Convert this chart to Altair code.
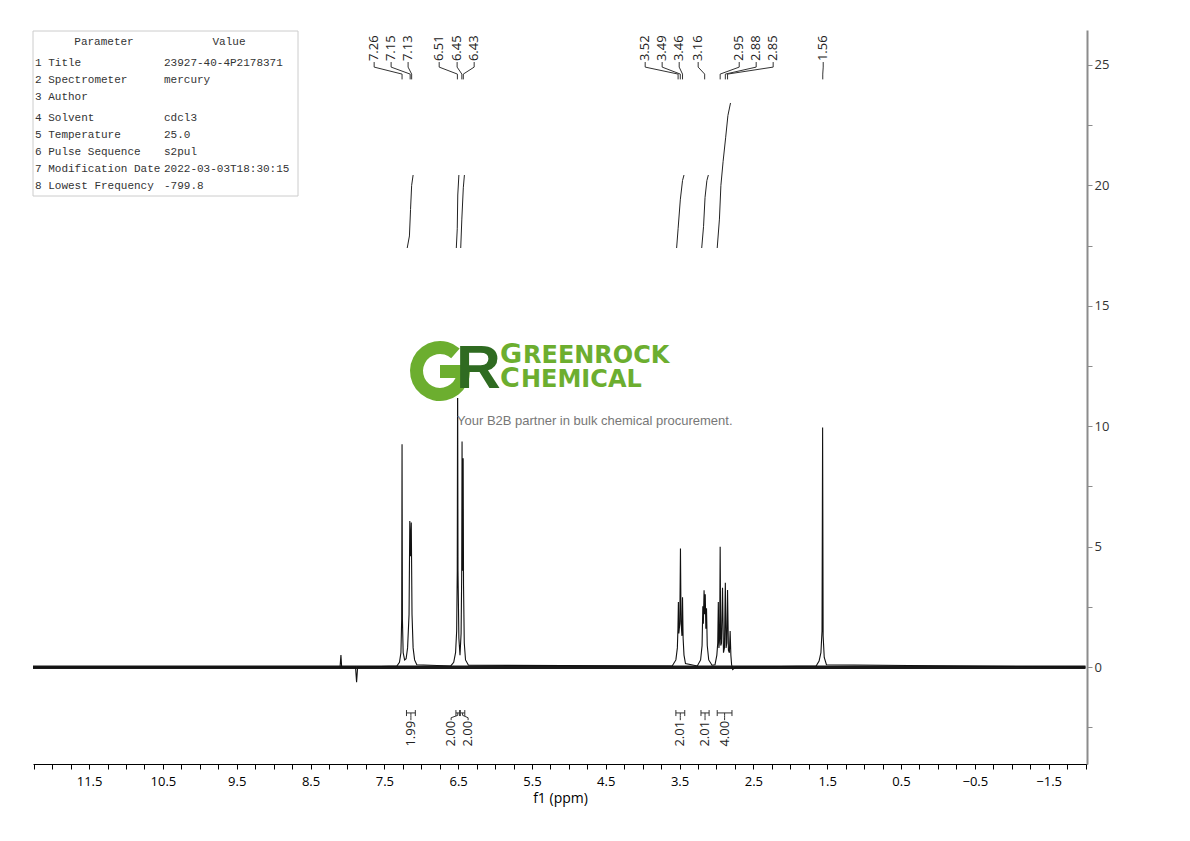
import altair as alt
import pandas as pd

# ---------------- data ----------------
# spectrum trace (ppm, intensity), in decreasing ppm
spec_ppm = [12.26,
            8.10, 8.088, 8.078, 7.89, 7.876, 7.862,
            7.33, 7.295, 7.275, 7.265, 7.26, 7.255, 7.245, 7.225, 7.205,
            7.185, 7.165, 7.155, 7.145, 7.135, 7.125, 7.11, 7.09, 7.06,
            6.60, 6.56, 6.535, 6.52, 6.512, 6.507, 6.502, 6.49, 6.475, 6.46, 6.452, 6.447, 6.442,
            6.437, 6.432, 6.427, 6.417, 6.40, 6.36,
            3.60, 3.55, 3.53, 3.522, 3.516, 3.51, 3.497, 3.488, 3.48, 3.468, 3.46, 3.452, 3.44, 3.42,
            3.26, 3.215, 3.195, 3.185, 3.178, 3.168, 3.16, 3.152, 3.144, 3.135, 3.125, 3.105, 3.06,
            3.02, 2.995, 2.983, 2.975, 2.967, 2.957, 2.95, 2.942, 2.932, 2.918, 2.905, 2.892, 2.88,
            2.87, 2.86, 2.85, 2.838, 2.825, 2.815, 2.805, 2.795, 2.78, 2.74,
            1.65, 1.61, 1.585, 1.57, 1.562, 1.555, 1.54, 1.51,
            -2.0]
spec_int = [0.0,
            0.0, 0.5, 0.0, 0.0, -0.62, 0.0,
            0.05, 0.2, 0.6, 2.0, 9.25, 2.0, 0.6, 0.3, 0.35,
            0.8, 2.2, 6.07, 4.6, 6.0, 2.2, 0.8, 0.3, 0.1,
            0.05, 0.2, 0.6, 1.5, 4.0, 12.5, 4.0, 1.2, 0.5, 1.4, 3.8, 9.37, 4.2,
            4.0, 8.67, 3.4, 1.0, 0.3, 0.08,
            0.05, 0.3, 0.8, 1.6, 2.7, 1.4, 1.8, 4.93, 1.9, 1.3, 2.9, 1.2, 0.5, 0.15,
            0.05, 0.3, 0.9, 2.53, 1.8, 3.19, 2.2, 3.03, 1.6, 2.45, 0.9, 0.3, 0.08,
            0.1, 0.5, 1.0, 2.7, 0.8, 1.2, 5.0, 0.9, 1.0, 3.3, 0.6, 0.8, 3.5,
            0.8, 1.0, 3.2, 0.7, 0.6, 1.5, 0.5, 0.1, -0.1, 0.0,
            0.05, 0.25, 0.6, 1.5, 9.95, 1.3, 0.4, 0.1,
            0.0]
baseline_ppm = [12.26, -2.0]

# peak picking labels
peak_labels = ["7.26", "7.15", "7.13", "6.51", "6.45", "6.43", "3.52", "3.49", "3.46",
               "3.16", "2.95", "2.88", "2.85", "1.56"]
peak_ppm = [7.26, 7.15, 7.13, 6.51, 6.45, 6.43, 3.52, 3.49, 3.46, 3.16, 2.95, 2.88, 2.85, 1.56]
peak_label_ppm = [7.638, 7.408, 7.178, 6.757, 6.514, 6.283, 3.966, 3.736, 3.505, 3.248,
                  2.692, 2.462, 2.232, 1.554]

# integrals
integral_values = ["1.99", "2.00", "2.00", "2.01", "2.01", "4.00"]
integral_from = [7.20, 6.53, 6.47, 3.55, 3.21, 2.99]
integral_to = [7.08, 6.48, 6.41, 3.43, 3.10, 2.79]
integral_label_ppm = [7.14, 6.595, 6.365, 3.49, 3.155, 2.89]
integral_curve_ppm = [
    [7.19, 7.16, 7.145, 7.13, 7.11],
    [6.525, 6.512, 6.505, 6.49],
    [6.465, 6.45, 6.43, 6.415],
    [3.54, 3.52, 3.49, 3.46, 3.44],
    [3.20, 3.175, 3.155, 3.13, 3.11],
    [2.99, 2.96, 2.94, 2.91, 2.875, 2.845, 2.81],
]
integral_curve_val = [
    [17.4, 17.9, 19.0, 20.0, 20.43],
    [17.4, 18.2, 19.6, 20.43],
    [17.4, 18.6, 19.9, 20.43],
    [17.4, 18.2, 19.4, 20.2, 20.43],
    [17.4, 18.3, 19.5, 20.2, 20.43],
    [17.4, 18.6, 20.0, 21.0, 22.0, 22.9, 23.42],
]

# parameter table
param_names = ["Title", "Spectrometer", "Author", "Solvent", "Temperature",
               "Pulse Sequence", "Modification Date", "Lowest Frequency"]
param_values = ["23927-40-4P2178371", "mercury", "", "cdcl3", "25.0", "s2pul",
                "2022-03-03T18:30:15", "-799.8"]

x_ticks = [round(-2.0 + 0.25 * i, 2) for i in range(58)]
y_ticks = [-2.5 + 2.5 * i for i in range(12)]

# ---------------- chart ----------------
W, H = 1054, 734
FONT = "Open Sans"
X = alt.Scale(domain=[12.26, -2.02], nice=False, zero=False)
Y = alt.Scale(domain=[-4.02, 26.45], nice=False, zero=False)
XAXIS = alt.Axis(values=x_ticks, grid=False,
                 labelExpr="abs(datum.value*2) % 2 === 1 ? format(datum.value, '.1f') : ''",
                 domainColor="#000000", tickColor="#000000", tickSize=5,
                 labelFont=FONT, labelFontSize=13, labelColor="#000000",
                 labelPadding=6, labelOverlap=False, labelFlush=False,
                 titleFont=FONT, titleFontSize=14, titleFontWeight="normal",
                 titleColor="#000000", titlePadding=3)
YAXIS = alt.Axis(orient="right", values=y_ticks, grid=False,
                 labelExpr="datum.value % 5 === 0 ? format(datum.value, 'd') : ''",
                 domainColor="#8c8c8c", domainWidth=2, tickColor="#8c8c8c",
                 tickSize=5, labelFont=FONT, labelFontSize=13, labelColor="#333333",
                 labelPadding=2, labelOverlap=False, labelFlush=False)
one = pd.DataFrame({"k": [0]})


def xq(field="ppm"):
    return alt.X(f"{field}:Q", scale=X, axis=XAXIS, title="f1 (ppm)")


def yq(field="v"):
    return alt.Y(f"{field}:Q", scale=Y, axis=YAXIS, title="")


spec_df = pd.DataFrame({"ppm": spec_ppm, "v": spec_int, "i": list(range(len(spec_ppm)))})
spectrum = alt.Chart(spec_df).mark_line(color="#111111", strokeWidth=1.1).encode(
    x=xq(), y=yq(), order="i:Q")

base_df = pd.DataFrame({"ppm": [baseline_ppm[0]], "ppm2": [baseline_ppm[1]], "v": [0.0]})
baseline = alt.Chart(base_df).mark_rule(color="#1a1a1a", strokeWidth=3.5).encode(
    x=xq(), x2="ppm2:Q", y=yq())

# peak label connectors
rows = []
for k, (p, lp) in enumerate(zip(peak_ppm, peak_label_ppm)):
    for j, (xx, vv) in enumerate([(lp, 25.12), (lp, 24.91), (p, 24.62), (p, 24.40)]):
        rows.append({"ppm": xx, "v": vv, "g": k, "o": j})
conn = alt.Chart(pd.DataFrame(rows)).mark_line(color="#333333", strokeWidth=1).encode(
    x=xq(), y=yq(), detail="g:N", order="o:Q")
plab_df = pd.DataFrame({"ppm": peak_label_ppm, "v": [25.16] * len(peak_labels), "t": peak_labels})
plabels = alt.Chart(plab_df).mark_text(angle=270, align="left", baseline="middle",
                                       font=FONT, fontSize=13, color="#222222").encode(
    x=xq(), y=yq(), text="t:N")

# integral curves
rows = []
for k, (ps, vs) in enumerate(zip(integral_curve_ppm, integral_curve_val)):
    for j, (xx, vv) in enumerate(zip(ps, vs)):
        rows.append({"ppm": xx, "v": vv, "g": k, "o": j})
icurves = alt.Chart(pd.DataFrame(rows)).mark_line(color="#222222", strokeWidth=1).encode(
    x=xq(), y=yq(), detail="g:N", order="o:Q")

# integral brackets
rng_df = pd.DataFrame({"ppm": integral_from, "ppm2": integral_to, "v": [-1.90] * 6})
irange = alt.Chart(rng_df).mark_rule(color="#333333", strokeWidth=1).encode(
    x=xq(), x2="ppm2:Q", y=yq())
ends_df = pd.DataFrame({"ppm": integral_from + integral_to, "v": [-1.78] * 12, "v2": [-2.03] * 12})
iends = alt.Chart(ends_df).mark_rule(color="#333333", strokeWidth=1).encode(
    x=xq(), y=yq(), y2="v2:Q")
rows = []
for k, (a, b, lp) in enumerate(zip(integral_from, integral_to, integral_label_ppm)):
    c = (a + b) / 2
    for j, (xx, vv) in enumerate([(lp, -2.20), (lp, -2.10), (c, -2.0), (c, -1.90)]):
        rows.append({"ppm": xx, "v": vv, "g": k, "o": j})
istem = alt.Chart(pd.DataFrame(rows)).mark_line(color="#333333", strokeWidth=1).encode(
    x=xq(), y=yq(), detail="g:N", order="o:Q")
ilab_df = pd.DataFrame({"ppm": integral_label_ppm, "v": [-2.23] * 6, "t": integral_values})
ilabels = alt.Chart(ilab_df).mark_text(angle=270, align="right", baseline="middle",
                                       font=FONT, fontSize=13, color="#222222").encode(
    x=xq(), y=yq(), text="t:N")

# watermark logo
GREEN = "#6cae2f"
DARK = "#2f6b21"
logo_bg = alt.Chart(one).mark_rect(fill="white").encode(
    x=alt.value(372), x2=alt.value(682), y=alt.value(303), y2=alt.value(368))
g_ring = alt.Chart(one).mark_arc(theta=1.5708, theta2=7.0, innerRadius=17, outerRadius=30,
                                 color=GREEN).encode(x=alt.value(407), y=alt.value(341))
g_bar = alt.Chart(one).mark_rect(color=GREEN).encode(
    x=alt.value(407), x2=alt.value(436), y=alt.value(335), y2=alt.value(348))
r_letter = alt.Chart(one).mark_text(text="R", font="Liberation Sans", fontWeight="bold",
                                    fontSize=62, color=DARK, align="left",
                                    baseline="alphabetic").encode(x=alt.value(423), y=alt.value(358))
w1a = alt.Chart(one).mark_text(text="G", font="DejaVu Sans", fontWeight="bold", fontSize=27,
                               color=GREEN, align="left", baseline="alphabetic").encode(
    x=alt.value(467), y=alt.value(333))
w1b = alt.Chart(one).mark_text(text="REENROCK", font="DejaVu Sans", fontWeight="bold", fontSize=24,
                               color=GREEN, align="left", baseline="alphabetic").encode(
    x=alt.value(490), y=alt.value(333))
w2a = alt.Chart(one).mark_text(text="C", font="DejaVu Sans", fontWeight="bold", fontSize=27,
                               color=GREEN, align="left", baseline="alphabetic").encode(
    x=alt.value(467), y=alt.value(357))
w2b = alt.Chart(one).mark_text(text="HEMICAL", font="DejaVu Sans", fontWeight="bold", fontSize=24,
                               color=GREEN, align="left", baseline="alphabetic").encode(
    x=alt.value(488), y=alt.value(357))
tagline = alt.Chart(one).mark_text(text="Your B2B partner in bulk chemical procurement.",
                                   font="Liberation Sans", fontSize=13, color="#777777",
                                   align="left", baseline="middle").encode(
    x=alt.value(424), y=alt.value(391))

# parameter table
MONO = "Liberation Mono"
tbox = alt.Chart(one).mark_rect(fill="white", stroke="#cccccc", strokeWidth=1).encode(
    x=alt.value(0), x2=alt.value(265), y=alt.value(1), y2=alt.value(166))
th1 = alt.Chart(one).mark_text(text="Parameter", font=MONO, fontSize=11, color="#333333",
                               align="center", baseline="middle").encode(x=alt.value(71), y=alt.value(12))
th2 = alt.Chart(one).mark_text(text="Value", font=MONO, fontSize=11, color="#333333",
                               align="center", baseline="middle").encode(x=alt.value(196), y=alt.value(12))
names = [f"{i + 1} {n}" for i, n in enumerate(param_names)]
tcells = []
for xs, col in [(2, names), (131, param_values)]:
    for y0, block in [(27, col[:3]), (82, col[3:])]:
        tcells.append(alt.Chart(one).mark_text(font=MONO, fontSize=11, color="#333333",
                                               align="left", baseline="top", lineHeight=17).encode(
            x=alt.value(xs), y=alt.value(y0), text=alt.value(block)))

chart = alt.layer(
    baseline, spectrum, conn, plabels, icurves, irange, iends, istem, ilabels,
    logo_bg, g_ring, g_bar, r_letter, w1a, w1b, w2a, w2b, tagline,
    tbox, th1, th2, *tcells,
).properties(
    width=W, height=H,
    padding={"left": 25, "top": 22, "right": 80, "bottom": 60},
    autosize=alt.AutoSizeParams(type="none"),
    background="white",
).configure_view(strokeWidth=0)

chart.save("out.html", embed_options={"renderer": "svg", "actions": False})
